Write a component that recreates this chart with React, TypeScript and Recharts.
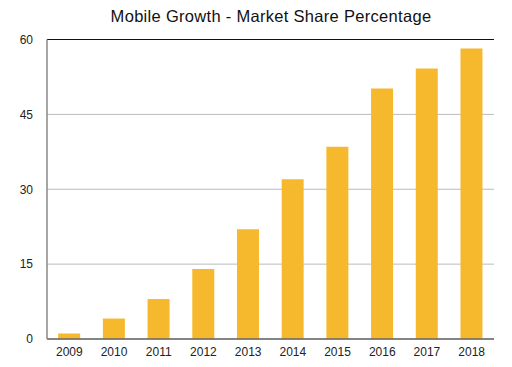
import React from 'react';
import { BarChart, Bar, XAxis, YAxis, CartesianGrid, ReferenceLine } from 'recharts';

const years = ['2009', '2010', '2011', '2012', '2013', '2014', '2015', '2016', '2017', '2018'];
const share = [1.1, 4.1, 8, 14, 22, 32, 38.5, 50.2, 54.2, 58.2];
const yTicks = [0, 15, 30, 45, 60];
const title = 'Mobile Growth - Market Share Percentage';

const data = years.map((y, i) => ({ year: y, share: share[i] }));

const font = '"Liberation Sans", Arial, Helvetica, sans-serif';

export default function App() {
  return (
    <div style={{ position: 'absolute', left: 0, top: 0, width: 512, height: 367, background: '#fff' }}>
      <div
        style={{
          position: 'absolute',
          left: 47,
          width: 448,
          top: 6,
          lineHeight: '20px',
          textAlign: 'center',
          fontFamily: font,
          fontSize: 16.5,
          letterSpacing: 0.3,
          color: '#111',
        }}
      >
        {title}
      </div>
      <BarChart
        width={512}
        height={367}
        data={data}
        margin={{ top: 39.5, right: 18, bottom: 0, left: 0 }}
        barCategoryGap="25%"
      >
        <CartesianGrid vertical={false} stroke="#bbbbbb" strokeWidth={1} />
        <XAxis
          dataKey="year"
          height={28}
          tickLine={false}
          axisLine={{ stroke: '#666', strokeWidth: 1.5 }}
          tick={{ fill: '#222', fontSize: 12, fontFamily: font }}
          tickMargin={2}
        />
        <YAxis
          width={47}
          domain={[0, 60]}
          ticks={yTicks}
          tickLine={false}
          axisLine={{ stroke: '#888', strokeWidth: 1.5 }}
          tick={{ fill: '#222', fontSize: 12, fontFamily: font }}
          tickMargin={8}
        />
        <YAxis
          yAxisId="right"
          orientation="right"
          width={0}
          tick={false}
          tickLine={false}
          axisLine={{ stroke: '#111', strokeWidth: 1 }}
        />
        <ReferenceLine y={60} stroke="#111" strokeWidth={1} />
        <Bar dataKey="share" fill="#F6B92E" isAnimationActive={false} />
      </BarChart>
    </div>
  );
}
